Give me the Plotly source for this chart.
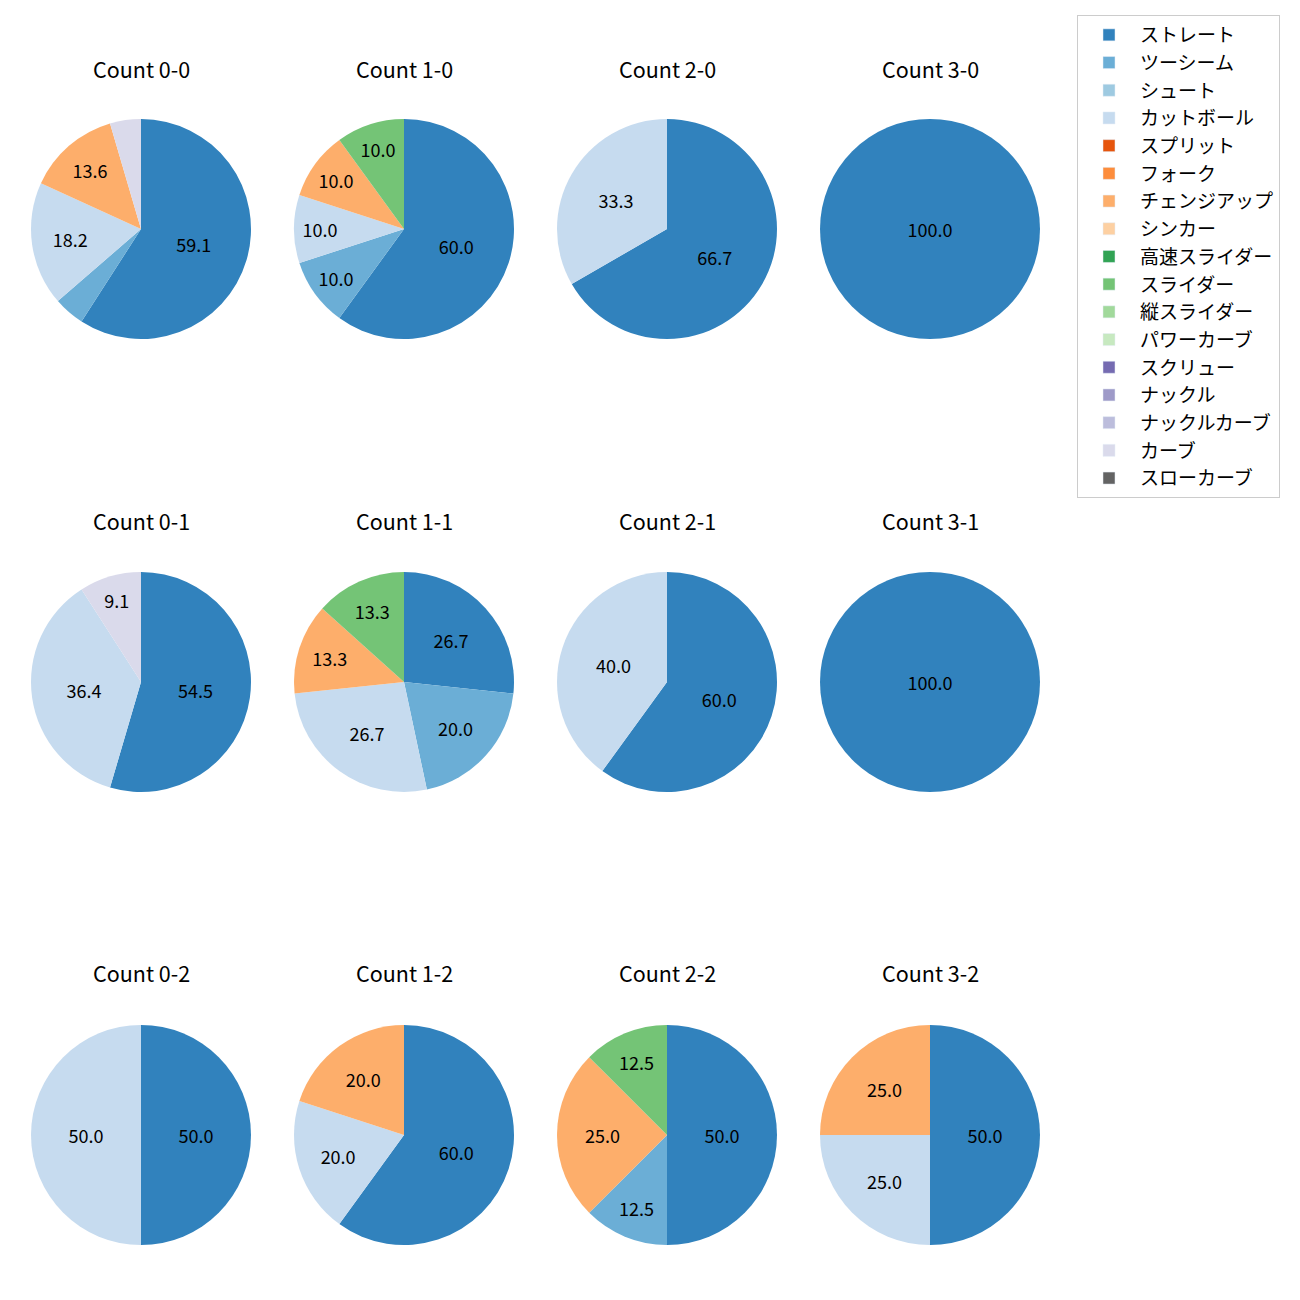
import plotly.graph_objects as go

pitch_types = ["ストレート", "ツーシーム", "シュート", "カットボール", "スプリット", "フォーク",
               "チェンジアップ", "シンカー", "高速スライダー", "スライダー", "縦スライダー",
               "パワーカーブ", "スクリュー", "ナックル", "ナックルカーブ", "カーブ", "スローカーブ"]
colors = ["#3182bd", "#6baed6", "#9ecae1", "#c6dbef", "#e6550d", "#fd8d3c", "#fdae6b", "#fdd0a2",
          "#31a354", "#74c476", "#a1d99b", "#c7e9c0", "#756bb1", "#9e9ac8", "#bcbddc", "#dadaeb",
          "#636363"]
color_map = dict(zip(pitch_types, colors))

counts = ["0-0", "1-0", "2-0", "3-0", "0-1", "1-1", "2-1", "3-1", "0-2", "1-2", "2-2", "3-2"]

# pitch counts per ball-strike count (labels, values)
data_00 = (["ストレート", "ツーシーム", "カットボール", "チェンジアップ", "カーブ"], [13, 1, 4, 3, 1])
data_10 = (["ストレート", "ツーシーム", "カットボール", "チェンジアップ", "スライダー"], [6, 1, 1, 1, 1])
data_20 = (["ストレート", "カットボール"], [2, 1])
data_30 = (["ストレート"], [1])
data_01 = (["ストレート", "カットボール", "カーブ"], [6, 4, 1])
data_11 = (["ストレート", "ツーシーム", "カットボール", "チェンジアップ", "スライダー"], [4, 3, 4, 2, 2])
data_21 = (["ストレート", "カットボール"], [3, 2])
data_31 = (["ストレート"], [1])
data_02 = (["ストレート", "カットボール"], [1, 1])
data_12 = (["ストレート", "カットボール", "チェンジアップ"], [3, 1, 1])
data_22 = (["ストレート", "ツーシーム", "チェンジアップ", "スライダー"], [4, 1, 2, 1])
data_32 = (["ストレート", "カットボール", "チェンジアップ"], [2, 1, 1])

all_data = [data_00, data_10, data_20, data_30, data_01, data_11, data_21, data_31,
            data_02, data_12, data_22, data_32]

W, H = 1300, 1300
OFF = 8  # page body margin
col_cx = [141, 404, 667, 930]
row_cy = [229, 682, 1135]
title_y = [68, 520, 972]
R = 110

FONT = "Noto Sans CJK JP"
fig = go.Figure()
annotations = []
for i, (cnt, (labs, vals)) in enumerate(zip(counts, all_data)):
    r, c = divmod(i, 4)
    cx, cy = col_cx[c] - OFF, row_cy[r] - OFF
    tot = sum(vals)
    texts = [f"{100*v/tot:.1f}" if 100 * v / tot >= 5 else "" for v in vals]
    fig.add_trace(go.Pie(
        labels=labs, values=vals, text=texts, textinfo="text",
        textposition="inside", insidetextorientation="horizontal",
        insidetextfont=dict(color="black", size=18, family=FONT),
        marker=dict(colors=[color_map[l] for l in labs], line=dict(width=0)),
        sort=False, direction="clockwise", rotation=0,
        domain=dict(x=[(cx - R) / W, (cx + R) / W], y=[1 - (cy + R) / H, 1 - (cy - R) / H]),
        showlegend=False, hoverinfo="label+percent",
    ))
    annotations.append(dict(text=f"Count {cnt}", x=cx / W, y=1 - (title_y[r] - OFF) / H,
                            xref="paper", yref="paper", showarrow=False,
                            xanchor="center", yanchor="middle",
                            font=dict(size=21.5, color="black", family=FONT)))

for p, col in zip(pitch_types, colors):
    fig.add_trace(go.Bar(x=[None], y=[None], name=p, marker_color=col,
                         legendgroup=p, showlegend=True))

fig.update_layout(
    width=W, height=H, margin=dict(l=0, r=0, t=0, b=0),
    paper_bgcolor="white", plot_bgcolor="white",
    font=dict(family=FONT, color="black"),
    xaxis=dict(visible=False, domain=[0.99, 1]), yaxis=dict(visible=False, domain=[0.99, 1]),
    annotations=annotations,
    legend=dict(x=(1077 - OFF) / W, y=1 - (15 - OFF) / H, xanchor="left", yanchor="top",
                bordercolor="#cccccc", borderwidth=1, bgcolor="white",
                font=dict(size=19, family=FONT), tracegroupgap=0,
                itemwidth=52),
)
fig.write_html("out.html")
